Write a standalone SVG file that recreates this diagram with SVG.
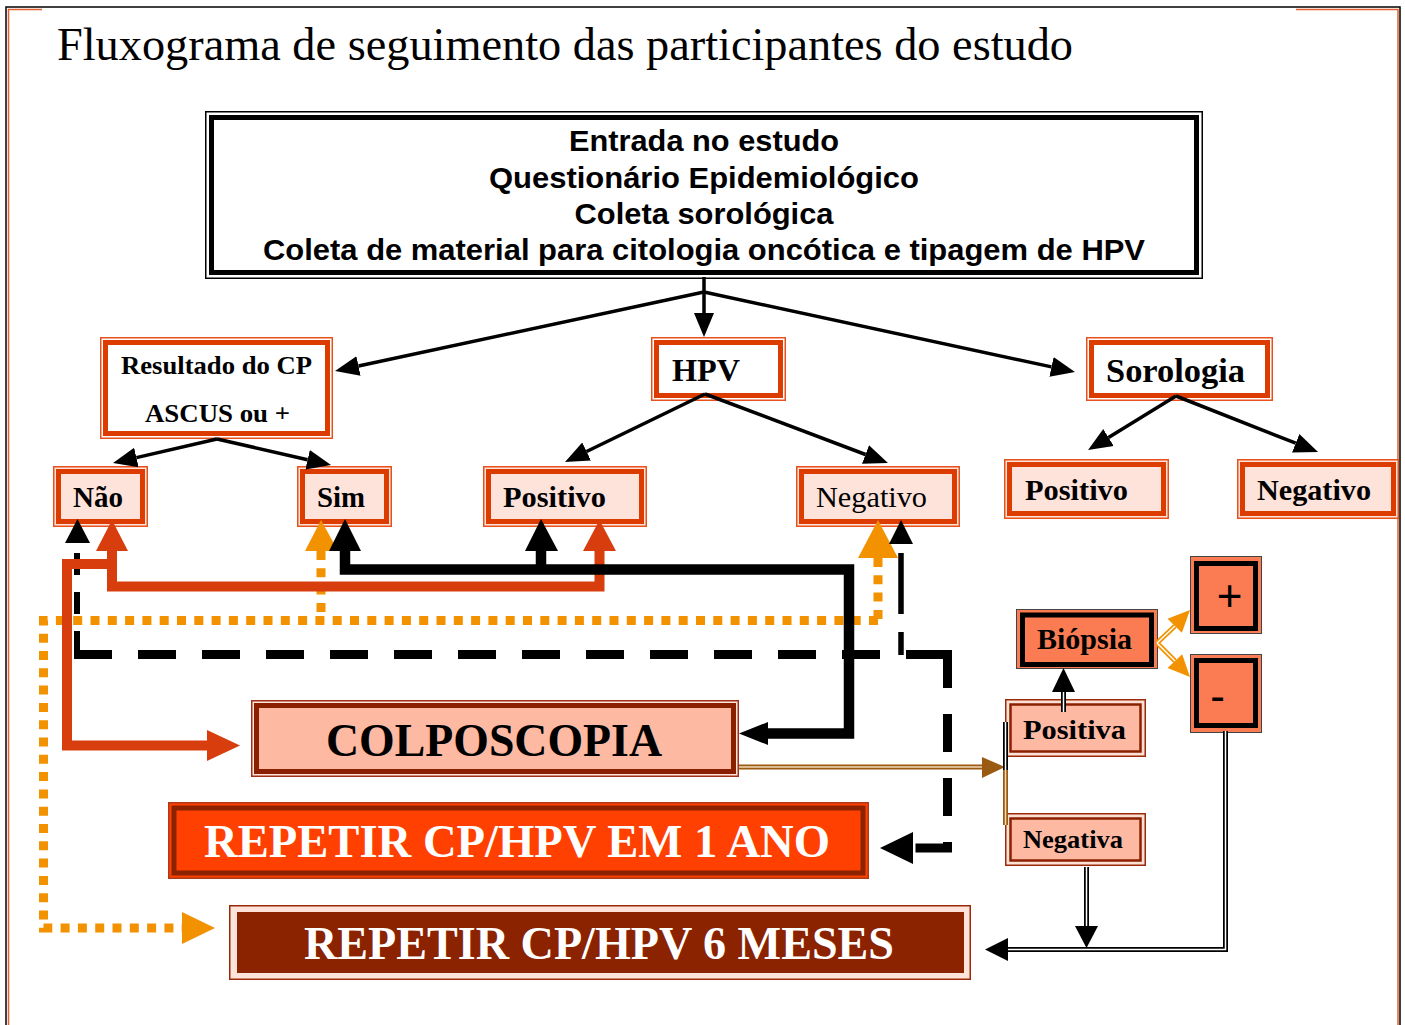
<svg xmlns="http://www.w3.org/2000/svg" width="1405" height="1025" viewBox="0 0 1405 1025">
<defs>
<style>
.serif{font-family:"Liberation Serif","Times New Roman",serif}
.sans{font-family:"Liberation Sans",Arial,sans-serif}
.b{font-weight:bold}
.o-out{fill:#fee3da;stroke:#e8501c;stroke-width:1.5}
.o-in{fill:none;stroke:#dc3c00;stroke-width:5}
.o-white{fill:#ffffff}
.s-out{fill:#fde0d4;stroke:#9a2a0a;stroke-width:1.5}
.s-in{fill:#fdb9a2;stroke:#8b2000;stroke-width:2.5}
.c-out{fill:#fb7b52;stroke:#444;stroke-width:1}
.c-in{fill:none;stroke:#000;stroke-width:5}
.thin{fill:none;stroke:#000;stroke-width:3.5}
.dbl{fill:none;stroke:#000;stroke-width:5}
.dbl-in{fill:none;stroke:#fff;stroke-width:1.5}
.red{fill:none;stroke:#d83d0d;stroke-width:10}
.blk{fill:none;stroke:#000;stroke-width:10.5}
.dot{fill:none;stroke:#f39200;stroke-width:9;stroke-dasharray:9 8.3}
</style>
<marker id="ah" markerUnits="userSpaceOnUse" markerWidth="26" markerHeight="22" refX="0" refY="11" orient="auto" viewBox="0 0 26 22">
<path d="M0,1 L24,11 L0,21 z" fill="#000"/>
</marker>
</defs>
<rect width="1405" height="1025" fill="#fff"/>

<g id="frame">
<path d="M6,1025 V7 H1400 V1025" fill="none" stroke="#000" stroke-width="1.5"/>
<path d="M8.5,1025 V9.5 H42 M1296,9.5 H1398 V1025" fill="none" stroke="#e06030" stroke-width="1.5"/>
</g>

<text id="title" class="serif" x="57" y="60" font-size="46" textLength="1016" lengthAdjust="spacingAndGlyphs">Fluxograma de seguimento das participantes do estudo</text>

<g id="node-entrada">
<rect x="205.75" y="111.75" width="996.5" height="166.5" fill="#fff" stroke="#000" stroke-width="1.5"/>
<rect x="211.5" y="117.5" width="985" height="155" fill="none" stroke="#000" stroke-width="5"/>
<g class="sans b" font-size="30" text-anchor="middle">
<text x="704" y="151" textLength="270" lengthAdjust="spacingAndGlyphs">Entrada no estudo</text>
<text x="704" y="188" textLength="430" lengthAdjust="spacingAndGlyphs">Questionário Epidemiológico</text>
<text x="704" y="224" textLength="259" lengthAdjust="spacingAndGlyphs">Coleta sorológica</text>
<text x="704" y="260" textLength="882" lengthAdjust="spacingAndGlyphs">Coleta de material para citologia oncótica e tipagem de HPV</text>
</g>
</g>

<g id="node-resultado">
<rect class="o-out o-white" x="100.75" y="337.75" width="231.5" height="100.5"/>
<rect class="o-in" x="105.5" y="342.5" width="222" height="91"/>
<text class="serif b" x="216.5" y="374" font-size="26" text-anchor="middle" textLength="191" lengthAdjust="spacingAndGlyphs">Resultado do CP</text>
<text class="serif b" x="217.5" y="422" font-size="26" text-anchor="middle" textLength="145" lengthAdjust="spacingAndGlyphs">ASCUS ou +</text>
</g>

<g id="node-hpv">
<rect class="o-out o-white" x="651.75" y="337.75" width="133.5" height="62.5"/>
<rect class="o-in" x="656.5" y="342.5" width="124" height="53"/>
<text class="serif b" x="672" y="381" font-size="32" textLength="68" lengthAdjust="spacingAndGlyphs">HPV</text>
</g>

<g id="node-sorologia">
<rect class="o-out o-white" x="1086.75" y="337.75" width="185.5" height="62.5"/>
<rect class="o-in" x="1091.5" y="342.5" width="176" height="53"/>
<text class="serif b" x="1106" y="382" font-size="34" textLength="139" lengthAdjust="spacingAndGlyphs">Sorologia</text>
</g>

<g id="node-nao">
<rect class="o-out" x="53.75" y="466.75" width="93.5" height="59.5"/>
<rect class="o-in" x="58.5" y="471.5" width="84" height="50"/>
<text class="serif b" x="73" y="507" font-size="29" textLength="50" lengthAdjust="spacingAndGlyphs">Não</text>
</g>

<g id="node-sim">
<rect class="o-out" x="297.75" y="466.75" width="93.5" height="59.5"/>
<rect class="o-in" x="302.5" y="471.5" width="84" height="50"/>
<text class="serif b" x="317" y="507" font-size="29" textLength="48" lengthAdjust="spacingAndGlyphs">Sim</text>
</g>

<g id="node-hpv-positivo">
<rect class="o-out" x="483.75" y="466.75" width="162.5" height="59.5"/>
<rect class="o-in" x="488.5" y="471.5" width="153" height="50"/>
<text class="serif b" x="503" y="507" font-size="30" textLength="103" lengthAdjust="spacingAndGlyphs">Positivo</text>
</g>

<g id="node-hpv-negativo">
<rect class="o-out" x="796.75" y="466.75" width="162.5" height="59.5"/>
<rect class="o-in" x="801.5" y="471.5" width="153" height="50"/>
<text class="serif" x="816" y="507" font-size="30" textLength="111" lengthAdjust="spacingAndGlyphs">Negativo</text>
</g>

<g id="node-sor-positivo">
<rect class="o-out" x="1004.75" y="459.75" width="163.5" height="58.5"/>
<rect class="o-in" x="1009.5" y="464.5" width="154" height="49"/>
<text class="serif b" x="1025" y="500" font-size="30" textLength="103" lengthAdjust="spacingAndGlyphs">Positivo</text>
</g>

<g id="node-sor-negativo">
<rect class="o-out" x="1237.75" y="459.75" width="160.5" height="58.5"/>
<rect class="o-in" x="1242.5" y="464.5" width="151" height="49"/>
<text class="serif b" x="1257" y="500" font-size="30" textLength="114" lengthAdjust="spacingAndGlyphs">Negativo</text>
</g>

<g id="node-biopsia">
<rect class="c-out" x="1016.5" y="609.5" width="141" height="59"/>
<rect class="c-in" x="1022.5" y="615" width="129" height="49.5"/>
<text class="serif b" x="1037" y="649" font-size="29" textLength="95" lengthAdjust="spacingAndGlyphs">Biópsia</text>
</g>

<g id="node-mais">
<rect class="c-out" x="1190.5" y="556.5" width="71" height="77"/>
<rect class="c-in" x="1196.5" y="563.5" width="59" height="65"/>
<text class="sans" x="1229.5" y="611" font-size="44" text-anchor="middle">+</text>
</g>

<g id="node-menos">
<rect class="c-out" x="1190.5" y="654.5" width="71" height="78"/>
<rect class="c-in" x="1196.5" y="660.5" width="59" height="65"/>
<text class="sans" x="1217.5" y="711" font-size="44" text-anchor="middle">-</text>
</g>

<g id="node-positiva">
<rect class="s-out" x="1005.75" y="699.75" width="139.5" height="56.5"/>
<rect class="s-in" x="1010.5" y="704.5" width="130" height="47"/>
<text class="serif b" x="1023" y="739" font-size="28" textLength="103" lengthAdjust="spacingAndGlyphs">Positiva</text>
</g>

<g id="node-negativa">
<rect class="s-out" x="1005.75" y="813.75" width="139.5" height="51.5"/>
<rect class="s-in" x="1010.5" y="818.5" width="130" height="42"/>
<text class="serif b" x="1023" y="848" font-size="26" textLength="100" lengthAdjust="spacingAndGlyphs">Negativa</text>
</g>

<g id="node-colposcopia">
<rect x="251.75" y="700.75" width="486.5" height="75.5" fill="#fde3da" stroke="#a0301a" stroke-width="1.5"/>
<rect x="256.5" y="705.5" width="477" height="66" fill="#fdb9a2" stroke="#8b2000" stroke-width="5"/>
<text class="serif b" x="494" y="756" font-size="46" text-anchor="middle" textLength="336" lengthAdjust="spacingAndGlyphs">COLPOSCOPIA</text>
</g>

<g id="node-repetir-1ano">
<rect x="168.75" y="802.75" width="699.5" height="75.5" fill="#ff4000" stroke="#b03a18" stroke-width="1.5"/>
<rect x="174" y="808" width="689" height="65" fill="none" stroke="#8b2200" stroke-width="5"/>
<text class="serif b" x="517" y="857" font-size="46" fill="#fff" text-anchor="middle" textLength="626" lengthAdjust="spacingAndGlyphs">REPETIR CP/HPV EM 1 ANO</text>
</g>

<g id="node-repetir-6meses">
<rect x="229.75" y="905.75" width="740.5" height="73.5" fill="#fde3da" stroke="#9a2a0a" stroke-width="1.5"/>
<rect x="237" y="912" width="727" height="61" fill="#8b2200"/>
<text class="serif b" x="599" y="959" font-size="46" fill="#fff" text-anchor="middle" textLength="590" lengthAdjust="spacingAndGlyphs">REPETIR CP/HPV 6 MESES</text>
</g>

<g id="connectors">
<!-- top tree -->
<path class="thin" d="M704,277 V292"/>
<path class="thin" d="M704,292 L358.5,366" marker-end="url(#ah)"/>
<path class="thin" d="M704,292 V313" marker-end="url(#ah)"/>
<path class="thin" d="M704,292 L1051.5,366.9" marker-end="url(#ah)"/>
<path class="thin" d="M217,439 L136.4,457.6" marker-end="url(#ah)"/>
<path class="thin" d="M217,439 L307.6,459.7" marker-end="url(#ah)"/>
<path class="thin" d="M705,394 L586.6,451.5" marker-end="url(#ah)"/>
<path class="thin" d="M705,394 L865.5,454.5" marker-end="url(#ah)"/>
<path class="thin" d="M1176,396 L1108.5,437.4" marker-end="url(#ah)"/>
<path class="thin" d="M1176,396 L1295.7,443.2" marker-end="url(#ah)"/>

<!-- orange dotted -->
<path class="dot" d="M321,551 V620.5"/>
<path class="dot" d="M878,558 V620.5"/>
<path class="dot" d="M878,620.5 H43.5 V928 H185"/>
<polygon fill="#f39200" points="305,551 321,520 338,551"/>
<polygon fill="#f39200" points="858,558 878,520 898,558"/>
<polygon fill="#f39200" points="182,912 215,928 182,944"/>

<!-- black dashed -->
<path d="M77,553 V655" fill="none" stroke="#000" stroke-width="6" stroke-dasharray="22 17"/>
<path d="M901,553 V655" fill="none" stroke="#000" stroke-width="5.5" stroke-dasharray="61 18"/>
<path d="M74,654.5 H947.5" fill="none" stroke="#000" stroke-width="9" stroke-dasharray="38 26"/>
<path d="M947.5,650 V848 H913" fill="none" stroke="#000" stroke-width="9" stroke-dasharray="38 26"/>
<polygon fill="#000" points="65,543 77.5,519 90,543"/>
<polygon fill="#000" points="889,544 901,520 913,544"/>
<polygon fill="#000" points="913,832 880,848 913,864"/>

<!-- red -->
<path class="red" d="M112,551 V586.5 H599.5 V551"/>
<path class="red" d="M112,564 H67 V745.5 H207"/>
<polygon fill="#d83d0d" points="96,551 112,520 128,551"/>
<polygon fill="#d83d0d" points="583,551 599.5,520 616,551"/>
<polygon fill="#d83d0d" points="207,730 240,745.5 207,761"/>

<!-- black solid -->
<path class="blk" d="M345,551 V569.5 H849 V733.5 H768"/>
<path class="blk" d="M541,551 V569.5"/>
<polygon fill="#000" points="329,551 345,519 361,551"/>
<polygon fill="#000" points="525,551 541,519 558,551"/>
<polygon fill="#000" points="768,722 739,733.5 768,745"/>

<!-- brown from COLPOSCOPIA -->
<path d="M739,767 H983" fill="none" stroke="#9b5a12" stroke-width="5"/>
<path d="M739,767 H983" fill="none" stroke="#f3dcb8" stroke-width="1.5"/>
<polygon fill="#9b5a12" points="982,757 1005,767 982,778"/>
<path class="dbl" d="M1005.5,722 V770"/>
<path class="dbl-in" d="M1005.5,722 V770"/>
<path d="M1005.5,770 V825" fill="none" stroke="#9b5a12" stroke-width="5"/>
<path d="M1005.5,770 V825" fill="none" stroke="#f3dcb8" stroke-width="1.5"/>

<!-- Positiva to Biopsia -->
<path class="dbl" d="M1063.5,712 V690"/>
<path class="dbl-in" d="M1063.5,712 V690"/>
<polygon fill="#000" points="1052,692 1063.5,668 1075,692"/>

<!-- Biopsia to + / - -->
<path d="M1157,643 L1175,626 M1157,643 L1175,661" fill="none" stroke="#f39200" stroke-width="5"/>
<path d="M1157,643 L1175,626 M1157,643 L1175,661" fill="none" stroke="#fff" stroke-width="1.5"/>
<polygon fill="#f39200" points="1181.9,632.8 1190,610 1167.5,618.8"/>
<polygon fill="#f39200" points="1167.6,667.9 1190,677 1182.2,654.2"/>

<!-- - to REPETIR 6 MESES -->
<path class="dbl" d="M1225.5,731 V949.5 H1008"/>
<path class="dbl-in" d="M1225.5,731 V949.5 H1008"/>
<polygon fill="#000" points="1008,938 985,949.5 1008,961"/>

<!-- Negativa down -->
<path class="dbl" d="M1086.5,867 V926"/>
<path class="dbl-in" d="M1086.5,867 V926"/>
<polygon fill="#000" points="1075,926 1086.5,948 1098,926"/>
</g>
</svg>
